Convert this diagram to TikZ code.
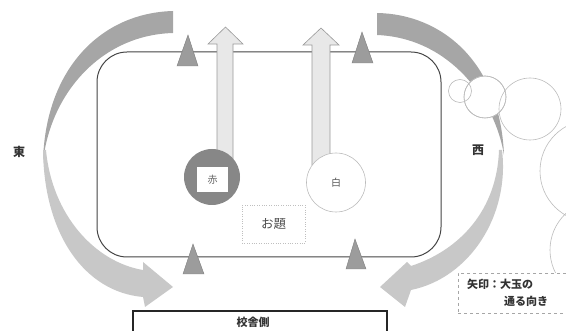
\documentclass[tikz,border=0pt]{standalone}
\usepackage{fontspec}
\setmainfont{Noto Sans CJK JP}
\definecolor{bandD}{HTML}{A6A6A6}
\definecolor{bandL}{HTML}{C8C8C8}
\definecolor{triF}{HTML}{9C9C9C}
\definecolor{lineD}{HTML}{444444}
\definecolor{lineL}{HTML}{BBBBBB}
\definecolor{txt}{HTML}{333333}
\begin{document}
\begin{tikzpicture}[x=1pt,y=-1pt,
  bandup/.style={fill=bandD, draw=none},
  bandlow/.style={fill=bandL, draw=none},
  tri/.style={fill=triF, draw=triF!80!black, line width=0.4pt},
  uparrow/.style={fill=black!9, draw=black!40, line width=0.6pt},
  ball/.style={circle, draw=lineL, line width=0.6pt},
  lbl/.style={font=\bfseries\fontsize{12}{14}\selectfont, text=txt, inner sep=0pt},
  legtxt/.style={font=\bfseries\fontsize{11}{13}\selectfont, text=txt, anchor=west, inner sep=0pt}]
\useasboundingbox (0,0) rectangle (566,331);
\clip (0,0) rectangle (566,331);

% main field
\node[draw=lineD, line width=1pt, rounded corners=30pt, minimum width=344pt, minimum height=205pt, inner sep=0pt] (field) at (269,154.5) {};

% left curved arrow
\path[bandup] (173,11) .. controls (100,13) and (45,70) .. (43,162)
  .. controls (50,95) and (100,35) .. (173,33) -- cycle;
\path[bandlow] (43,150) .. controls (44,235) and (85,292) .. (143,297)
  -- (145,307) -- (173,287) -- (143,262) -- (143,270)
  .. controls (95,262) and (52,215) .. (46,150) -- cycle;

% right curved arrow
\path[bandup] (377,13) .. controls (440,14) and (500,60) .. (504,155)
  .. controls (495,100) and (450,38) .. (377,35) -- cycle;
\path[bandlow] (502,150) .. controls (510,215) and (470,278) .. (411,290)
  -- (405,307) -- (380,287) -- (407,262) -- (411,266)
  .. controls (460,250) and (497,210) .. (499,150) -- cycle;

% balls on the right
\node[ball, fill=white, minimum size=42pt] (b2) at (485,97) {};
\node[ball, minimum size=23pt] (b1) at (460,91) {};
\node[ball, minimum size=42pt] (b2o) at (485,97) {};
\node[ball, minimum size=62pt] (b3) at (530,109) {};
\node[ball, minimum size=102pt] (b4) at (591,171) {};
\node[ball, minimum size=100pt] (b5) at (600,250) {};

% triangles
\path[tri] (188,35) -- (198,66) -- (177,66) -- cycle;
\path[tri] (362,32) -- (373,63) -- (352,63) -- cycle;
\path[tri] (193,244) -- (204,274) -- (183,274) -- cycle;
\path[tri] (355,239) -- (366,269) -- (346,269) -- cycle;

% up arrows
\path[uparrow] (217,160) -- (217,44) -- (208,44) -- (225.5,27) -- (243,44) -- (233,44) -- (233,160) -- cycle;
\path[uparrow] (312,165) -- (312,45) -- (303,45) -- (321,28) -- (339,45) -- (330,45) -- (330,165) -- cycle;

% red and white balls
\node[circle, fill=black!47, minimum size=56pt, inner sep=0pt] (aka) at (212,177) {};
\node[fill=white, minimum width=31pt, minimum height=25pt, inner sep=0pt, font=\fontsize{10}{11}\selectfont, text=black!60] (akal) at (212.5,179.5) {赤};
\node[circle, draw=lineL, fill=white, line width=0.6pt, minimum size=59pt, inner sep=0pt, font=\fontsize{10}{11}\selectfont, text=black!65] (shiro) at (336,182.5) {白};

% odai
\node[draw=black!25, dotted, minimum width=63pt, minimum height=38pt, inner sep=0pt, font=\fontsize{12.5}{14}\selectfont, text=black!70] (odai) at (273.5,224) {お題};

% east / west
\node[lbl] (east) at (19,152) {東};
\node[lbl] (west) at (478,150) {西};

% legend
\node[draw=black!35, dashed, fill=white, minimum width=112pt, minimum height=40pt, inner sep=0pt] (legend) at (514,293) {};
\node[legtxt] (leg1) at (467,284) {矢印：大玉の};
\node[legtxt] (leg2) at (504,301) {通る向き};

% school side
\node[draw=black!85, line width=1.5pt, fill=white, minimum width=254pt, minimum height=40pt, inner sep=0pt] (school) at (260,331) {};
\node[font=\bfseries\fontsize{11}{13}\selectfont, text=txt, inner sep=0pt] (schooll) at (253,322) {校舎側};
\end{tikzpicture}
\end{document}
